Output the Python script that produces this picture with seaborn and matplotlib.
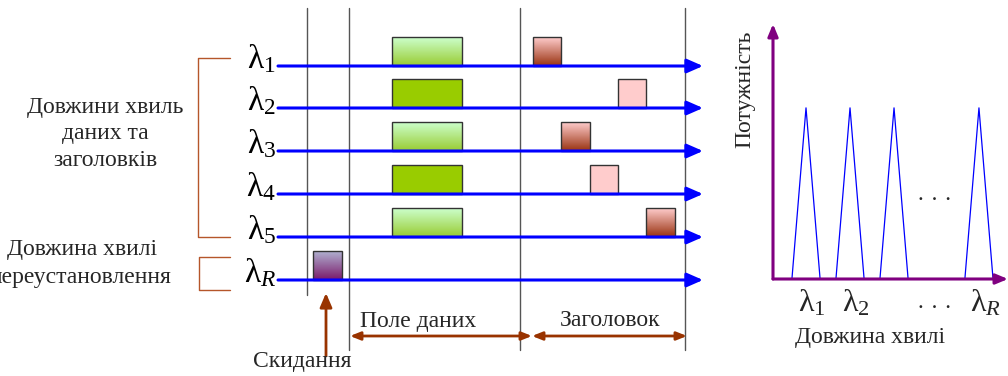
import numpy as np
import pandas as pd
import matplotlib.pyplot as plt
import seaborn as sns
from matplotlib.patches import Rectangle
from matplotlib.colors import LinearSegmentedColormap

sns.set_theme(style="white")
plt.rcParams['font.family'] = ['Liberation Serif', 'DejaVu Serif']
plt.rcParams['mathtext.fontset'] = 'custom'
plt.rcParams['mathtext.rm'] = 'Liberation Serif'
plt.rcParams['mathtext.it'] = 'Liberation Serif:italic'

# Дані
hvyli = ["1", "2", "3", "4", "5", "R"]
slot_zagolovka = [0, 3, 1, 2, 4]          # порядок заголовків у часі для λ1..λ5
gradient = [True, False, True, False, True]
kanaly = [0.75, 1.75, 2.75, 4.68]         # положення піків на осі довжин хвиль
pidpysy_kanaliv = [r"λ$_1$", r"λ$_2$", "· · ·", r"λ$_{R}$"]
potuzhnist = [1.0, 1.0, 1.0, 1.0]

# розмітка (пікселі)
row_y = [66, 108, 151, 194, 237, 280]
x_start, x_end = 278, 703
data_x0, data_x1 = 392, 462
hdr_x0, hdr_w = 533, 28.3
blk_h = 29
FS = 17

fig = plt.figure(figsize=(10.08, 3.76), dpi=100)
ax = fig.add_axes([0, 0, 1, 1])
ax.set_xlim(0, 1008)
ax.set_ylim(376, 0)
ax.axis('off')

cm_green = LinearSegmentedColormap.from_list('g', ['#ccffcc', '#99cc33'])
cm_red = LinearSegmentedColormap.from_list('r', ['#ffcccc', '#993311'])
cm_purp = LinearSegmentedColormap.from_list('p', ['#b0b0d0', '#7a1a6a'])
grad = np.linspace(0, 1, 64).reshape(-1, 1)


def block(x0, x1, yb, cmap=None, color=None):
    if cmap is not None:
        ax.imshow(grad, cmap=cmap, aspect='auto', extent=(x0, x1, yb, yb - blk_h), zorder=2)
        ax.add_patch(Rectangle((x0, yb - blk_h), x1 - x0, blk_h, fill=False,
                               ec='#333333', lw=1, zorder=3))
    else:
        ax.add_patch(Rectangle((x0, yb - blk_h), x1 - x0, blk_h, fc=color,
                               ec='#333333', lw=1, zorder=3))


# вертикальні лінії
ax.plot([307, 307], [8, 295], color='#555555', lw=1)
for xv in [349, 520, 685]:
    ax.plot([xv, xv], [8, 350], color='#555555', lw=1)

# рядки довжин хвиль
for i, h in enumerate(hvyli):
    y = row_y[i]
    ax.annotate('', xy=(x_end, y), xytext=(x_start, y),
                arrowprops=dict(arrowstyle='-|>,head_length=0.8,head_width=0.35',
                                color='#0000ff', lw=2.2, shrinkA=0, shrinkB=0), zorder=4)
    sub = r"$_{R}$" if h == "R" else r"$_{%s}$" % h
    ax.text(276, y - 7, "λ" + sub, ha='right', va='center', fontsize=24, color='black')

for i in range(5):
    y = row_y[i]
    hx = hdr_x0 + slot_zagolovka[i] * hdr_w
    if gradient[i]:
        block(data_x0, data_x1, y, cmap=cm_green)
        block(hx, hx + hdr_w, y, cmap=cm_red)
    else:
        block(data_x0, data_x1, y, color='#99cc00')
        block(hx, hx + hdr_w, y, color='#ffcccc')

block(313, 342, row_y[5], cmap=cm_purp)

# дужки
br = '#b5562a'
ax.plot([230, 198, 198, 230], [58, 58, 237, 237], color=br, lw=1)
ax.plot([230, 199, 199, 230], [257, 257, 290, 290], color=br, lw=1)

ax.text(105, 108, "Довжини хвиль", ha='center', va='center', fontsize=FS)
ax.text(105, 134, "даних та", ha='center', va='center', fontsize=FS)
ax.text(105, 160, "заголовків", ha='center', va='center', fontsize=FS)
ax.text(82, 250, "Довжина хвилі", ha='center', va='center', fontsize=FS)
ax.text(80, 277, "переустановлення", ha='center', va='center', fontsize=FS)

# стрілки внизу
arr = '#993300'
ax.annotate('', xy=(326, 293), xytext=(326, 356),
            arrowprops=dict(arrowstyle='-|>,head_length=0.7,head_width=0.3',
                            color=arr, lw=2, shrinkA=0, shrinkB=0))
ax.annotate('', xy=(350, 336), xytext=(532, 336),
            arrowprops=dict(arrowstyle='<|-|>,head_length=0.5,head_width=0.2',
                            color=arr, lw=2, shrinkA=0, shrinkB=0))
ax.annotate('', xy=(532, 336), xytext=(687, 336),
            arrowprops=dict(arrowstyle='<|-|>,head_length=0.5,head_width=0.2',
                            color=arr, lw=2, shrinkA=0, shrinkB=0))
ax.text(302, 362, "Скидання", ha='center', va='center', fontsize=FS)
ax.text(418, 321, "Поле даних", ha='center', va='center', fontsize=FS)
ax.text(610, 321, "Заголовок", ha='center', va='center', fontsize=FS)

# спектр
sax = fig.add_axes([773 / 1008, (376 - 279) / 376, (1008 - 773) / 1008, (279 - 24) / 376])
sax.set_xlim(0, 5.34)
sax.set_ylim(0, 1.49)
sax.axis('off')
hw = 0.32
rows = []
for k, (c, p) in enumerate(zip(kanaly, potuzhnist)):
    rows += [dict(k=k, x=c - hw, y=0), dict(k=k, x=c, y=p), dict(k=k, x=c + hw, y=0)]
df = pd.DataFrame(rows)
sns.lineplot(data=df, x='x', y='y', units='k', estimator=None, sort=False,
             color='#0000ff', lw=0.9, ax=sax, legend=False)
sax.annotate('', xy=(1.0, 0), xytext=(0, 0), xycoords='axes fraction',
             arrowprops=dict(arrowstyle='-|>,head_length=0.6,head_width=0.25',
                             color='#800080', lw=2.2, shrinkA=0, shrinkB=0), annotation_clip=False)
sax.annotate('', xy=(0, 1.0), xytext=(0, 0), xycoords='axes fraction',
             arrowprops=dict(arrowstyle='-|>,head_length=0.6,head_width=0.25',
                             color='#800080', lw=2.2, shrinkA=0, shrinkB=0), annotation_clip=False)
for c, lab in zip([0.88, 1.88, 3.68, 4.84], pidpysy_kanaliv):
    if lab == "· · ·":
        sax.text(c, -0.17, lab, ha='center', va='center', fontsize=FS, clip_on=False)
    else:
        sax.text(c, -0.14, lab, ha='center', va='center', fontsize=23, clip_on=False)
sax.text(3.68, 0.46, "· · ·", ha='center', va='center', fontsize=FS)
sax.set_xlabel('')
sax.set_ylabel('')

ax.text(870, 337, "Довжина хвилі", ha='center', va='center', fontsize=FS)
ax.text(745, 89, "Потужність", ha='center', va='center', fontsize=FS, rotation=90)

fig.savefig("out.png", dpi=100)
